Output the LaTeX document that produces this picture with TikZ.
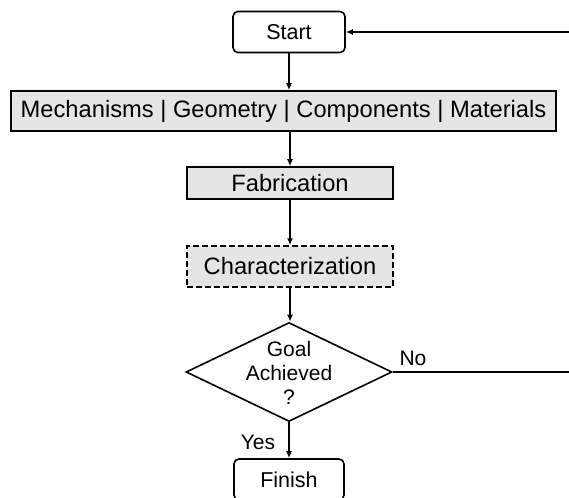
\documentclass[tikz,border=0pt]{standalone}
\usepackage{fontspec}
\setmainfont{Liberation Sans}
\usetikzlibrary{shapes.geometric,arrows.meta}
\begin{document}
\begin{tikzpicture}[x=1pt,y=-1pt,
  conn/.style={line width=2.2pt},
  arr/.style={conn,-{Latex[length=7pt,width=6pt]}},
  termbox/.style={draw,line width=1.6pt,rounded corners=5pt,minimum width=112pt,minimum height=41pt,inner sep=0pt,font=\fontsize{21.5}{24}\selectfont},
  procbox/.style={draw,line width=1.6pt,fill=gray!20,minimum height=40pt,inner sep=0pt,font=\fontsize{23.7}{26}\selectfont},
  lbl/.style={font=\fontsize{21}{24}\selectfont,inner sep=0pt}]
\useasboundingbox (0,0) rectangle (569,497);
\node[termbox] (start) at (289,32) {Start};
\node[procbox,minimum width=545pt] (design) at (283.5,111) {Mechanisms | Geometry | Components | Materials};
\node[procbox,minimum width=206pt,minimum height=32pt] (fab) at (290,183) {Fabrication};
\node[procbox,dash pattern=on 6pt off 3pt,minimum width=206pt,minimum height=41pt,line width=1.4pt] (char) at (290,266.5) {Characterization};
\node[draw,line width=1.6pt,diamond,minimum width=206pt,minimum height=99pt,inner sep=0pt] (goal) at (289,372) {};
\node[lbl,align=center,font=\fontsize{21}{24}\selectfont] (goaltxt) at (289,373) {Goal\\Achieved\\?};
\node[termbox,minimum width=110pt] (finish) at (289,479.5) {Finish};
\coordinate (rtop) at (569,32);
\coordinate (rno) at (569,372);
\draw[arr] (rtop) -- (start.east);
\draw[arr] (start.south) -- (start.south |- design.north);
\draw[arr] (fab.north |- design.south) -- (fab.north);
\draw[arr] (fab.south) -- (char.north);
\draw[arr] (char.south) -- (char.south |- goal.north);
\draw[arr] (goal.south) -- (finish.north);
\draw[conn] (goal.east) -- (rno);
\node[lbl] (no) at (413,358) {No};
\node[lbl] (yes) at (258,442) {Yes};
\end{tikzpicture}
\end{document}
